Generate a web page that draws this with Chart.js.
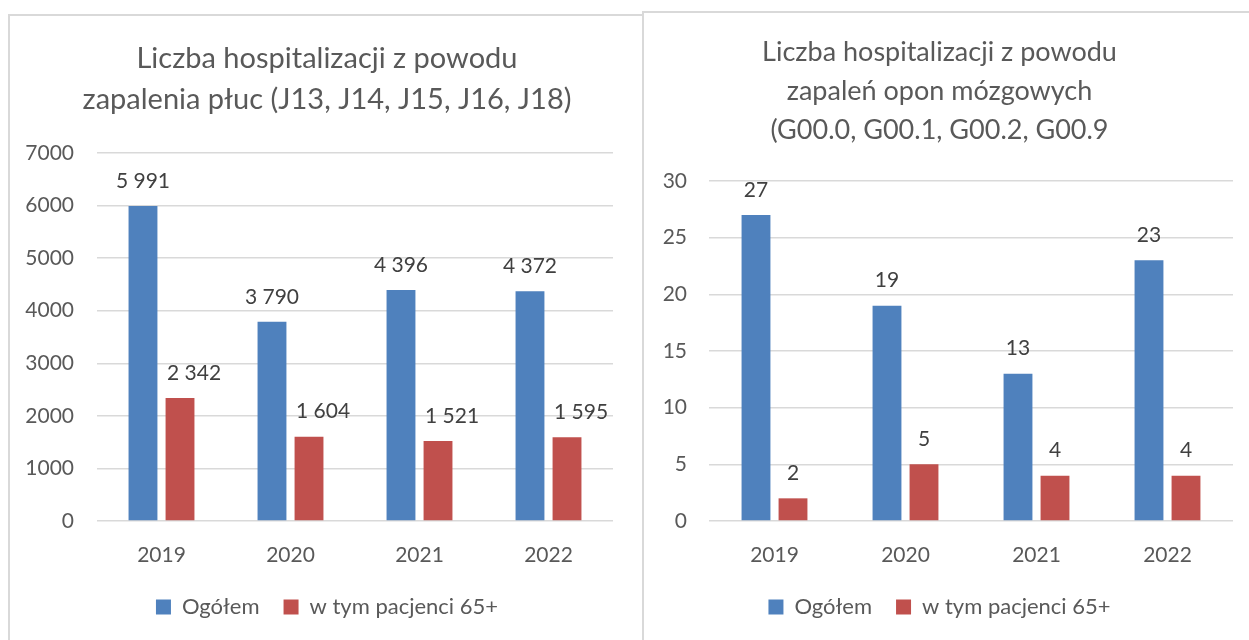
<!DOCTYPE html>
<html>
<head>
<meta charset="utf-8">
<script src="https://cdn.jsdelivr.net/npm/chart.js@4/dist/chart.umd.min.js"></script>
<style>
    body { margin: 0; background: #fff; width: 1249px; height: 640px; overflow: hidden; position: relative; }
    .panel { position: absolute; box-sizing: border-box; border: 2px solid #d9d9d9; background: #fff; }
    .box { position: absolute; }
</style>
</head>
<body>
<div class="panel" style="left:8px; top:14px; width:636px; height:700px;"></div>
<div class="panel" style="left:642px; top:11px; width:700px; height:700px;"></div>
<div class="box" style="left:10px; top:16px; width:630px; height:624px;"><canvas id="chartLeft"></canvas></div>
<div class="box" style="left:646px; top:13px; width:603px; height:627px;"><canvas id="chartRight"></canvas></div>
<script>
const years = ['2019', '2020', '2021', '2022'];
const seriesNames = ['Ogółem', 'w tym pacjenci 65+'];

// zapalenie płuc
const pneumoniaAll = [5991, 3790, 4396, 4372];
const pneumonia65 = [2342, 1604, 1521, 1595];
const pneumoniaTitle = ['Liczba hospitalizacji z powodu', 'zapalenia płuc (J13, J14, J15, J16, J18)'];

// zapalenie opon mózgowych
const meningitisAll = [27, 19, 13, 23];
const meningitis65 = [2, 5, 4, 4];
const meningitisTitle = ['Liczba hospitalizacji z powodu', 'zapaleń opon mózgowych', '(G00.0, G00.1, G00.2, G00.9'];

const FONT = 'Lato, "Open Sans", sans-serif';
const BLUE = '#4f81bd';
const RED = '#c0504d';
const TEXT = '#595959';

function formatValue(v) {
    return String(v).replace(/\B(?=(\d{3})+(?!\d))/g, ' ');
}

// labels above bars (second series can be nudged sideways, like in the original)
const valueLabels = {
    id: 'valueLabels',
    afterLayout(chart, args, opts) {
        // let the y tick labels spill into the left padding without being clipped
        if (opts.axisLeft !== undefined) chart.scales.y.left = opts.axisLeft;
    },
    afterDatasetsDraw(chart, args, opts) {
        const ctx = chart.ctx;
        const shift = opts.shift || [0, 0];
        ctx.save();
        ctx.font = '21px ' + FONT;
        ctx.fillStyle = '#404040';
        ctx.textAlign = 'center';
        ctx.textBaseline = 'middle';
        chart.data.datasets.forEach((ds, i) => {
            chart.getDatasetMeta(i).data.forEach((bar, j) => {
                ctx.fillText(formatValue(ds.data[j]), bar.x + shift[i], bar.y - 25);
            });
        });
        ctx.restore();
    }
};

function makeChart(id, opts) {
    const ctx = document.getElementById(id);
    return new Chart(ctx, {
        type: 'bar',
        data: {
            labels: years,
            datasets: [
                { label: seriesNames[0], data: opts.all, backgroundColor: BLUE },
                { label: seriesNames[1], data: opts.old, backgroundColor: RED }
            ]
        },
        options: {
            responsive: true,
            maintainAspectRatio: false,
            animation: false,
            categoryPercentage: opts.catPct,
            barPercentage: 0.78,
            layout: { padding: { left: opts.padLeft, right: opts.padRight, top: 0, bottom: 12 } },
            plugins: {
                title: {
                    display: true,
                    text: opts.title,
                    color: TEXT,
                    font: { family: FONT, size: opts.titleSize, weight: 'normal', lineHeight: opts.titleLine + 'px' },
                    padding: { top: opts.titleTop, bottom: opts.titleBottom }
                },
                legend: {
                    position: 'bottom',
                    labels: {
                        color: TEXT,
                        font: { family: FONT, size: 22 },
                        boxWidth: 15,
                        boxHeight: 15,
                        padding: 24
                    }
                },
                tooltip: { enabled: false },
                valueLabels: { shift: opts.labelShift, axisLeft: opts.axisLeft }
            },
            scales: {
                x: {
                    grid: { display: false },
                    border: { display: false },
                    ticks: { color: TEXT, font: { family: FONT, size: 21 }, padding: 14 },
                    afterFit(scale) { scale.height = 51; }
                },
                y: {
                    min: 0,
                    max: opts.max,
                    grid: { color: '#d9d9d9', lineWidth: 1.5, drawTicks: false },
                    border: { display: false },
                    ticks: {
                        stepSize: opts.step,
                        color: TEXT,
                        font: { family: FONT, size: 21 },
                        padding: opts.tickPad,
                        callback: v => String(v)
                    },
                    afterFit(scale) { scale.width = opts.axisWidth; }
                }
            }
        },
        plugins: [valueLabels]
    });
}

makeChart('chartLeft', {
    all: pneumoniaAll, old: pneumonia65, title: pneumoniaTitle,
    max: 7000, step: 1000, catPct: 0.574, padLeft: 31, padRight: 27, axisWidth: 56, axisLeft: 0, tickPad: 23,
    titleSize: 29, titleLine: 41, titleTop: 22, titleBottom: 33, labelShift: [0, 14]
});

makeChart('chartRight', {
    all: meningitisAll, old: meningitis65, title: meningitisTitle,
    max: 30, step: 5, catPct: 0.565, padLeft: 0, padRight: 16, axisWidth: 63, tickPad: 22,
    titleSize: 27, titleLine: 39, titleTop: 20, titleBottom: 31, labelShift: [0, 0]
});
</script>
</body>
</html>
